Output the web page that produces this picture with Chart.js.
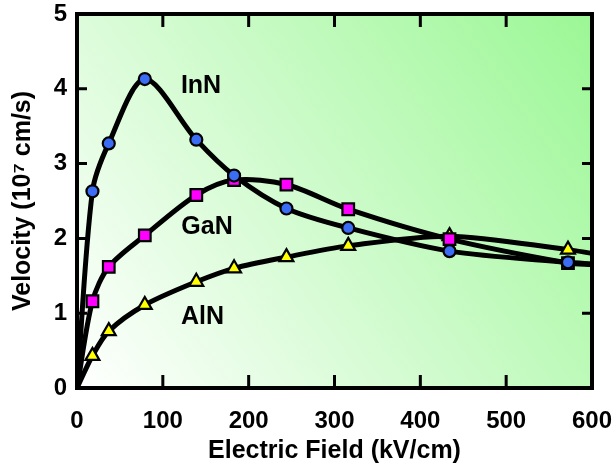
<!DOCTYPE html>
<html><head><meta charset="utf-8">
<script src="https://cdn.jsdelivr.net/npm/chart.js@4.4.1/dist/chart.umd.min.js"></script>
<style>html,body{margin:0;padding:0;background:#fff}canvas{display:block}</style>
</head><body>
<canvas id="c" width="613" height="467"></canvas>
<script>
// ---- data ----
const fieldKV = [18, 37, 79, 139, 183, 244, 316, 434, 572];          // kV/cm (marker positions)
const velInN  = [2.63, 3.27, 4.13, 3.32, 2.84, 2.40, 2.14, 1.83, 1.68]; // 1e7 cm/s
const velGaN  = [1.16, 1.62, 2.04, 2.58, 2.78, 2.72, 2.39, 1.99, 1.67];
const velAlN  = [0.43, 0.76, 1.11, 1.42, 1.60, 1.75, 1.90, 2.03, 1.85];
// curve end points (no marker): at 0 and 600 kV/cm
const endField  = [0, 600];
const endInN    = [0, 1.66];
const endGaN    = [0, 1.65];
const endAlN    = [0, 1.80];
const materials = ['InN', 'GaN', 'AlN'];
const xTicks = [0, 100, 200, 300, 400, 500, 600];
const yTicks = [0, 1, 2, 3, 4, 5];
const xTitle = 'Electric Field (kV/cm)';
const yTitle = 'Velocity (10\u2077 cm/s)';

const FONT = '"Liberation Sans", Arial, Helvetica, sans-serif';

function pts(xs, ys) { return xs.map((x, i) => ({ x: x, y: ys[i] })); }
function curve(ys, ends) {
  return pts([endField[0]].concat(fieldKV, [endField[1]]), [ends[0]].concat(ys, [ends[1]]));
}

const lineStyle = {
  showLine: true, borderColor: '#000', borderWidth: 5, pointRadius: 0,
  cubicInterpolationMode: 'default', tension: 0.3, fill: false
};
const markStyle = { showLine: false, borderColor: '#000', pointBorderWidth: 2.2 };

const datasets = [
  Object.assign({ label: materials[0] + ' curve', data: curve(velInN, endInN), order: 5 }, lineStyle),
  Object.assign({ label: materials[1] + ' curve', data: curve(velGaN, endGaN), order: 4 }, lineStyle),
  Object.assign({ label: materials[2] + ' curve', data: curve(velAlN, endAlN), order: 3 }, lineStyle),
  Object.assign({ label: materials[0], data: pts(fieldKV, velInN), order: 0,
    pointStyle: 'circle', pointRadius: 6, pointBackgroundColor: '#3a6cf4' }, markStyle),
  Object.assign({ label: materials[1], data: pts(fieldKV, velGaN), order: 1,
    pointStyle: 'rect', pointRadius: 8.2, pointBackgroundColor: '#ff00ff' }, markStyle),
  Object.assign({ label: materials[2], data: pts(fieldKV, velAlN), order: 2,
    pointStyle: 'triangle', pointRadius: 8, pointBackgroundColor: '#ffff00' }, markStyle)
];

const decor = {
  id: 'decor',
  beforeDatasetsDraw(chart) {
    const { ctx, chartArea: a } = chart;
    const g = ctx.createLinearGradient(a.left, a.bottom, a.right, a.top);
    g.addColorStop(0, '#ffffff');
    g.addColorStop(1, '#9bf795');
    ctx.save();
    ctx.fillStyle = g;
    ctx.fillRect(a.left, a.top, a.right - a.left, a.bottom - a.top);
    ctx.restore();
  },
  afterDatasetsDraw(chart, args, opts) {
    const { ctx, chartArea: a, scales } = chart;
    ctx.save();
    ctx.strokeStyle = '#000';
    // inward ticks
    ctx.lineWidth = 3;
    ctx.beginPath();
    scales.x.ticks.forEach(t => {
      if (t.value <= scales.x.min || t.value >= scales.x.max) return;
      const px = scales.x.getPixelForValue(t.value);
      ctx.moveTo(px, a.bottom); ctx.lineTo(px, a.bottom - 13);
      ctx.moveTo(px, a.top); ctx.lineTo(px, a.top + 13);
    });
    scales.y.ticks.forEach(t => {
      if (t.value <= scales.y.min || t.value >= scales.y.max) return;
      const py = scales.y.getPixelForValue(t.value);
      ctx.moveTo(a.left, py); ctx.lineTo(a.left + 10, py);
      ctx.moveTo(a.right, py); ctx.lineTo(a.right - 10, py);
    });
    ctx.stroke();
    // frame
    ctx.lineWidth = 4;
    ctx.strokeRect(a.left, a.top, a.right - a.left, a.bottom - a.top);
    // series labels
    ctx.fillStyle = '#000';
    ctx.font = 'bold 25px ' + FONT;
    ctx.textAlign = 'center';
    ctx.textBaseline = 'middle';
    materials.forEach((m, i) => {
      const p = opts.anchors[i];
      ctx.fillText(m, scales.x.getPixelForValue(p[0]), scales.y.getPixelForValue(p[1]));
    });
    ctx.restore();
  }
};

new Chart(document.getElementById('c'), {
  type: 'scatter',
  data: { datasets: datasets },
  plugins: [decor],
  options: {
    responsive: false, animation: false, devicePixelRatio: 1,
    layout: { padding: { top: 14, right: 21, left: 0, bottom: 0 } },
    plugins: {
      legend: { display: false }, tooltip: { enabled: false },
      decor: { anchors: [[144.5, 4.03], [151.5, 2.15], [146.3, 0.95]] }
    },
    scales: {
      x: {
        type: 'linear', min: 0, max: 600,
        afterBuildTicks: s => { s.ticks = xTicks.map(v => ({ value: v })); },
        afterFit: s => { s.height = 79; s.paddingLeft = 0; s.paddingRight = 0; },
        grid: { display: false, drawTicks: false }, border: { display: false },
        ticks: { padding: 19, color: '#000', font: { family: FONT, size: 24, weight: 'bold' }, maxRotation: 0 },
        title: { display: true, text: xTitle, color: '#000', padding: { top: 0, bottom: 1 },
                 font: { family: FONT, size: 25, weight: 'bold' } }
      },
      y: {
        type: 'linear', min: 0, max: 5,
        afterBuildTicks: s => { s.ticks = yTicks.map(v => ({ value: v })); },
        afterFit: s => { s.width = 77; s.paddingTop = 0; s.paddingBottom = 0; },
        grid: { display: false, drawTicks: false }, border: { display: false },
        ticks: { padding: 10, color: '#000', font: { family: FONT, size: 24, weight: 'bold' } },
        title: { display: true, text: yTitle, color: '#000', padding: { top: 8, bottom: 0 },
                 font: { family: FONT, size: 25, weight: 'bold' } }
      }
    }
  }
});
</script>
</body></html>
